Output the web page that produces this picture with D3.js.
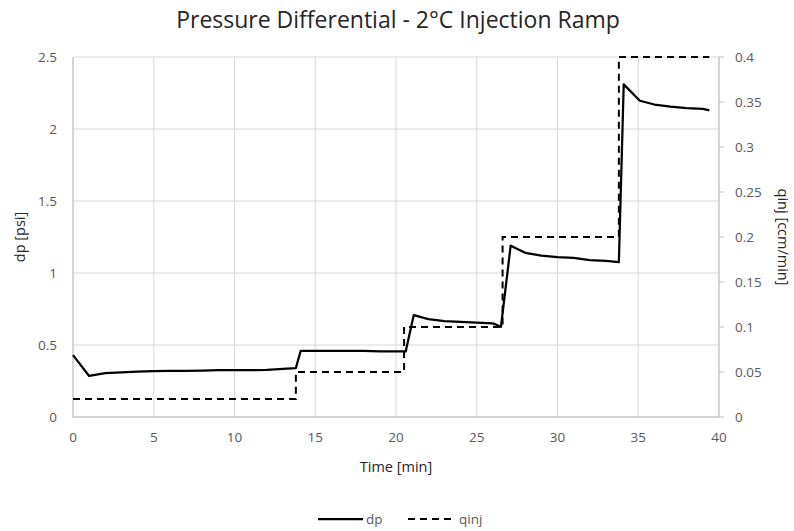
<!DOCTYPE html>
<html><head><meta charset="utf-8">
<script src="https://cdn.jsdelivr.net/npm/d3@7"></script>
<style>body{margin:0;background:#fff}svg{display:block}text{font-family:"Open Sans","Noto Sans",sans-serif}</style>
</head><body><svg id="c" width="794" height="531"></svg>
<script>
const dpTime = [0,1,2,3,4,5,6,7,8,9,10,11,12,13,13.8,14.1,15,16,17,18,19,20,20.6,21.1,22,23,24,25,26,26.5,27.1,28,29,30,31,32,33,33.8,34.1,35.1,36,37,38,39,39.4];
const dpValue = [0.43,0.285,0.305,0.31,0.315,0.318,0.32,0.32,0.322,0.325,0.325,0.325,0.328,0.335,0.34,0.46,0.46,0.46,0.46,0.46,0.455,0.455,0.455,0.708,0.68,0.665,0.66,0.655,0.65,0.627,1.19,1.14,1.12,1.11,1.105,1.09,1.085,1.076,2.31,2.196,2.17,2.155,2.145,2.14,2.13];
const qTime = [0,13.8,13.8,20.5,20.5,26.6,26.6,33.8,33.8,39.4];
const qValue = [0.02,0.02,0.05,0.05,0.1,0.1,0.2,0.2,0.4,0.4];
const xTicks = [0,5,10,15,20,25,30,35,40];
const yLeftTicks = [0,0.5,1,1.5,2,2.5];
const yRightTicks = [0,0.05,0.1,0.15,0.2,0.25,0.3,0.35,0.4];

const svg = d3.select("#c");
const L=73,R=719,T=57,B=417;
const x = d3.scaleLinear().domain([0,40]).range([L,R]);
const yl = d3.scaleLinear().domain([0,2.5]).range([B,T]);
const yr = d3.scaleLinear().domain([0,0.4]).range([B,T]);
const grid="#d9d9d9", lab="#595959", dark="#262626";

const g = svg.append("g");
g.selectAll(".hg").data(yLeftTicks).join("line").attr("x1",L).attr("x2",R).attr("y1",d=>yl(d)).attr("y2",d=>yl(d)).attr("stroke",grid);
g.selectAll(".vg").data(xTicks).join("line").attr("y1",T).attr("y2",B).attr("x1",d=>x(d)).attr("x2",d=>x(d)).attr("stroke",grid);
g.append("line").attr("x1",L).attr("x2",L).attr("y1",T).attr("y2",B).attr("stroke","#bfbfbf");
g.append("line").attr("x1",R).attr("x2",R).attr("y1",T).attr("y2",B).attr("stroke","#bfbfbf");
g.append("line").attr("x1",L).attr("x2",R).attr("y1",B).attr("y2",B).attr("stroke","#bfbfbf");
g.selectAll(".rt").data(yRightTicks).join("line").attr("x1",R).attr("x2",R+5).attr("y1",d=>yr(d)).attr("y2",d=>yr(d)).attr("stroke","#bfbfbf");

const fmt = d=>String(d);
g.selectAll(".xl").data(xTicks).join("text").attr("x",d=>x(d)).attr("y",442).attr("text-anchor","middle").attr("font-size",13.5).attr("fill",lab).text(fmt);
g.selectAll(".yl").data(yLeftTicks).join("text").attr("x",57).attr("y",d=>yl(d)+5).attr("text-anchor","end").attr("font-size",13.5).attr("fill",lab).text(fmt);
g.selectAll(".yr").data(yRightTicks).join("text").attr("x",735).attr("y",d=>yr(d)+5).attr("text-anchor","start").attr("font-size",13.5).attr("fill",lab).text(fmt);

svg.append("text").attr("x",398).attr("y",28).attr("text-anchor","middle").attr("font-size",23).attr("fill",dark).text("Pressure Differential - 2°C Injection Ramp");
svg.append("text").attr("x",(L+R)/2).attr("y",472).attr("text-anchor","middle").attr("font-size",14.5).attr("fill",dark).text("Time [min]");
svg.append("text").attr("transform",`translate(25,${(T+B)/2}) rotate(-90)`).attr("text-anchor","middle").attr("font-size",14.5).attr("fill",dark).text("dp [psi]");
svg.append("text").attr("transform",`translate(778,${(T+B)/2}) rotate(90)`).attr("text-anchor","middle").attr("font-size",14.5).attr("fill",dark).text("qinj [ccm/min]");

const lineL = d3.line().x(d=>x(d[0])).y(d=>yl(d[1]));
const lineR = d3.line().x(d=>x(d[0])).y(d=>yr(d[1]));
svg.append("path").attr("d",lineR(qTime.map((t,i)=>[t,qValue[i]]))).attr("fill","none").attr("stroke","#000").attr("stroke-width",2).attr("stroke-dasharray","7,5");
svg.append("path").attr("d",lineL(dpTime.map((t,i)=>[t,dpValue[i]]))).attr("fill","none").attr("stroke","#000").attr("stroke-width",2.25).attr("stroke-linejoin","round");

const lg = svg.append("g");
lg.append("line").attr("x1",318).attr("x2",363).attr("y1",519).attr("y2",519).attr("stroke","#000").attr("stroke-width",2.25);
lg.append("text").attr("x",366).attr("y",524).attr("font-size",13.5).attr("fill",lab).text("dp");
lg.append("line").attr("x1",408).attr("x2",455).attr("y1",519).attr("y2",519).attr("stroke","#000").attr("stroke-width",2).attr("stroke-dasharray","7,5");
lg.append("text").attr("x",459).attr("y",524).attr("font-size",13.5).attr("fill",lab).text("qinj");
</script></body></html>
